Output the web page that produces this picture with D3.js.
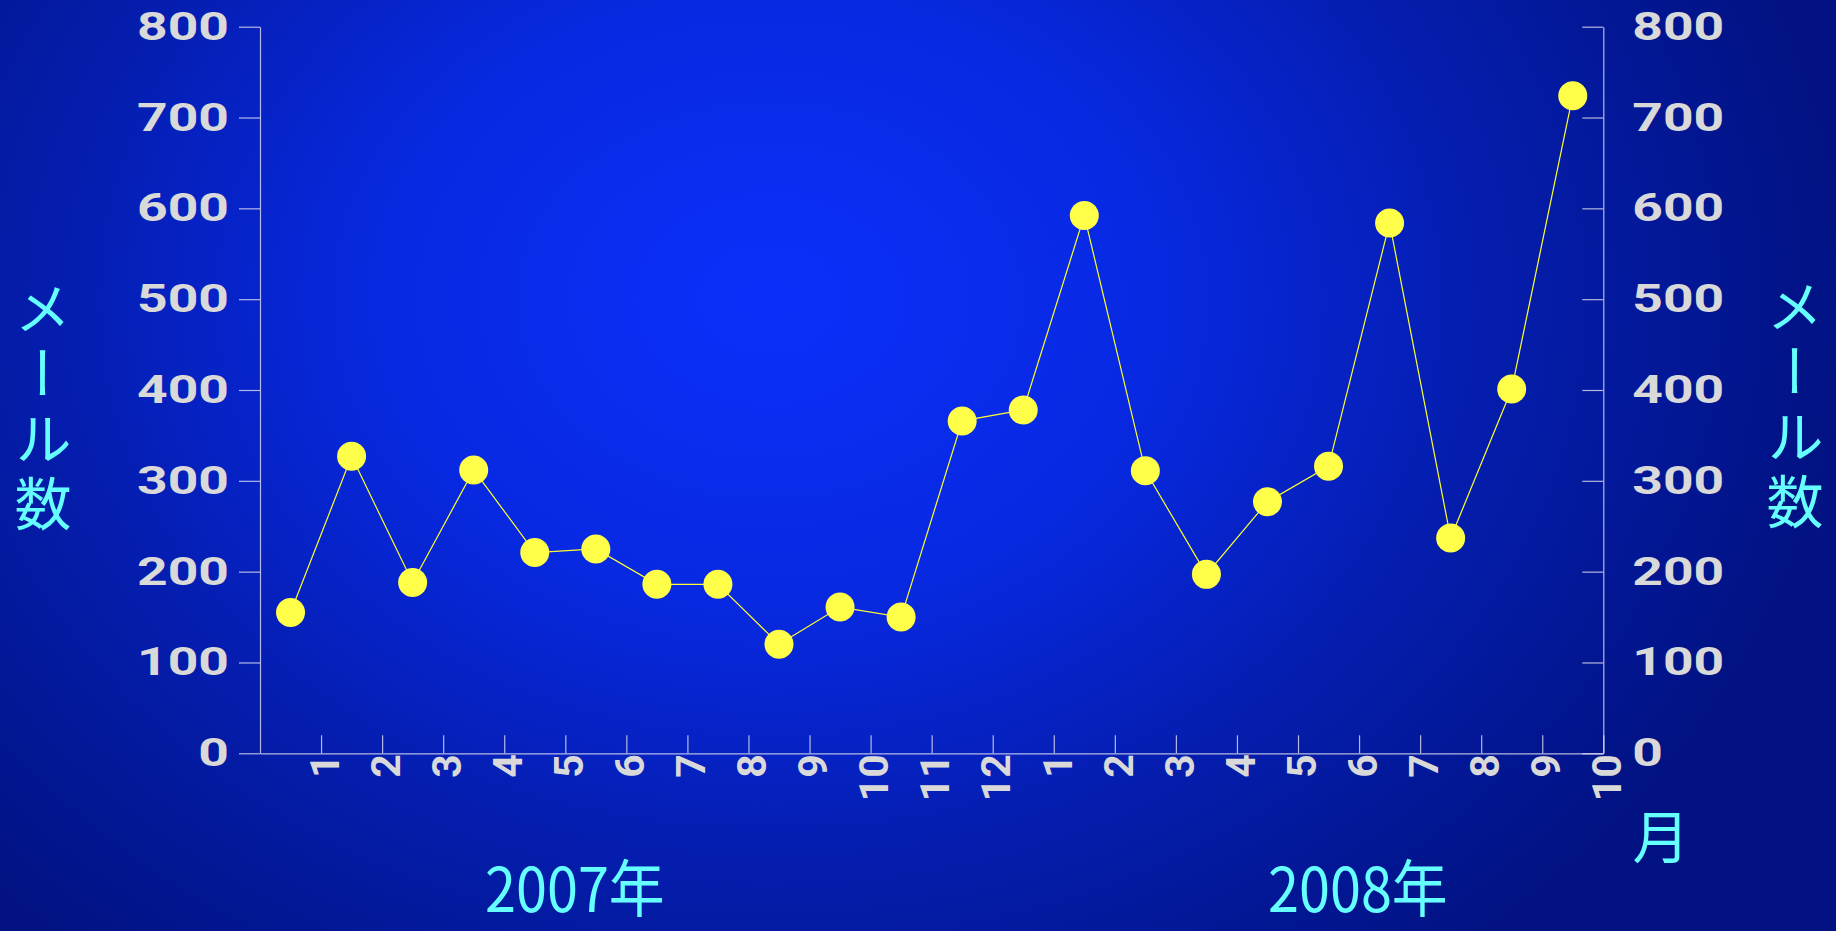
<!DOCTYPE html>
<html>
<head>
<meta charset="utf-8">
<script src="https://cdn.jsdelivr.net/npm/d3@7/dist/d3.min.js"></script>
<style>
  html, body { margin: 0; padding: 0; background: #021488; overflow: hidden; }
</style>
</head>
<body>
<div class="canvas"></div>
<script>
// monthly mail counts, Jan 2007 .. Oct 2008
const months = ["1","2","3","4","5","6","7","8","9","10","11","12","1","2","3","4","5","6","7","8","9","10"];
const mailCounts = [155, 327, 188, 312, 221, 225, 186, 186, 120, 161, 150, 366, 378, 592, 311, 197, 277, 316, 584, 237, 401, 724];
const yTicks = [0, 100, 200, 300, 400, 500, 600, 700, 800];
const yearLabels = ["2007年", "2008年"];
const yTitle = "メール数";
const xTitle = "月";

const dims = { width: 1836, height: 931 };
const plot = { left: 260, right: 1603.3, top: 26.7, bottom: 753.3 };

const svg = d3.select('.canvas').append('svg')
  .attr('width', dims.width)
  .attr('height', dims.height);

// background glow
const defs = svg.append('defs');
const grad = defs.append('radialGradient')
  .attr('id', 'bg')
  .attr('gradientUnits', 'userSpaceOnUse')
  .attr('cx', 770).attr('cy', 300).attr('r', 1000)
  .attr('gradientTransform', 'translate(770,300) scale(1.08,0.85) translate(-770,-300)');
grad.append('stop').attr('offset', 0).attr('stop-color', '#0b30fa');
grad.append('stop').attr('offset', 0.35).attr('stop-color', '#0829e2');
grad.append('stop').attr('offset', 0.7).attr('stop-color', '#041ca8');
grad.append('stop').attr('offset', 1).attr('stop-color', '#021282');

svg.append('rect')
  .attr('width', dims.width).attr('height', dims.height)
  .attr('fill', 'url(#bg)');

// scales
const x = d3.scaleLinear().domain([0, months.length]).range([plot.left, plot.right]);
const y = d3.scaleLinear().domain([0, 800]).range([plot.bottom, plot.top]);

const axisColor = 'rgba(225,225,240,0.8)';
const tickFont = 'Roboto, "DejaVu Sans", sans-serif';

// left axis
const gLeft = svg.append('g')
  .attr('transform', `translate(${plot.left},0)`)
  .call(d3.axisLeft(y).tickValues(yTicks).tickSizeInner(21).tickSizeOuter(0).tickPadding(0));
gLeft.selectAll('text')
  .attr('x', 0)
  .attr('transform', 'translate(-31,0) scale(1.37,1)');

// right axis, ticks point inward
const gRight = svg.append('g')
  .attr('transform', `translate(${plot.right},0)`)
  .call(d3.axisRight(y).tickValues(yTicks).tickSizeInner(-21).tickSizeOuter(0).tickPadding(0));
gRight.selectAll('text')
  .attr('x', 0)
  .attr('transform', 'translate(29,0) scale(1.37,1)');

[gLeft, gRight].forEach(g => {
  g.selectAll('text')
    .attr('fill', '#d9d9d9')
    .attr('font-family', tickFont)
    .attr('font-weight', 700)
    .attr('font-size', 39);
});

// bottom axis - ticks at the end of each month slot, labels turned up
const gBottom = svg.append('g')
  .attr('transform', `translate(0,${plot.bottom})`)
  .call(d3.axisBottom(x)
    .tickValues(d3.range(1, months.length + 1))
    .tickFormat(d => months[d - 1])
    .tickSizeInner(-18).tickSizeOuter(0));
gBottom.selectAll('text')
  .attr('x', -1)
  .attr('y', 0)
  .attr('dy', '0.42em')
  .attr('text-anchor', 'end')
  .attr('transform', 'rotate(-90)')
  .attr('fill', '#d9d9d9')
  .attr('font-family', tickFont)
  .attr('font-weight', 700)
  .attr('font-size', 41);

svg.selectAll('.domain, .tick line')
  .attr('stroke', axisColor)
  .attr('stroke-width', 1.2);

// series
const px = (d, i) => x(i + 0.5);
const line = d3.line().x(px).y(d => y(d));

svg.append('path')
  .datum(mailCounts)
  .attr('fill', 'none')
  .attr('stroke', '#ffff33')
  .attr('stroke-width', 1.2)
  .attr('d', line);

svg.selectAll('.dot')
  .data(mailCounts)
  .enter().append('circle')
  .attr('class', 'dot')
  .attr('cx', px)
  .attr('cy', d => y(d))
  .attr('r', 14.5)
  .attr('fill', '#ffff4a');

// titles
const titleFont = '"Noto Sans CJK JP", sans-serif';
const cyan = '#66ffff';

[43, 1795].forEach((tx, k) => {
  svg.append('text')
    .attr('x', tx)
    .attr('y', k === 0 ? 280 : 278)
    .attr('writing-mode', 'vertical-rl')
    .attr('letter-spacing', 8)
    .attr('font-family', titleFont)
    .attr('font-size', 57)
    .attr('fill', cyan)
    .text(yTitle);
});

svg.append('text')
  .attr('x', 1661)
  .attr('y', 858)
  .attr('text-anchor', 'middle')
  .attr('font-family', titleFont)
  .attr('font-size', 57)
  .attr('fill', cyan)
  .text(xTitle);

const yearPos = [[485, 912], [1268, 912]];
yearLabels.forEach((t, i) => {
  svg.append('text')
    .attr('transform', `translate(${yearPos[i][0]},${yearPos[i][1]}) scale(0.9,1)`)
    .attr('font-family', titleFont)
    .attr('font-size', 62)
    .attr('fill', cyan)
    .text(t);
});
</script>
</body>
</html>
